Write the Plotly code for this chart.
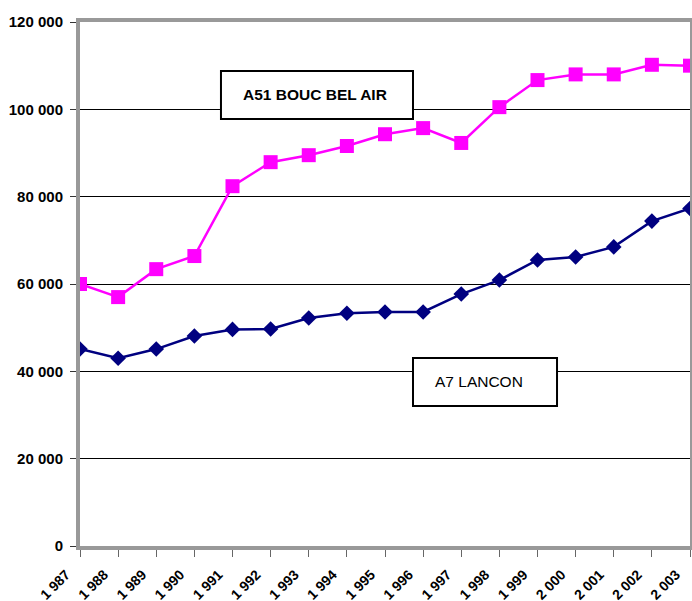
import plotly.graph_objects as go

years = list(range(1987, 2004))
year_labels = ["1 987", "1 988", "1 989", "1 990", "1 991", "1 992", "1 993", "1 994", "1 995",
               "1 996", "1 997", "1 998", "1 999", "2 000", "2 001", "2 002", "2 003"]
a51 = [60000, 57000, 63400, 66400, 82400, 87900, 89500, 91600, 94300, 95700, 92300,
       100500, 106700, 108000, 108000, 110200, 110000]
a7 = [45100, 43000, 45100, 48100, 49600, 49700, 52200, 53300, 53600, 53600, 57700,
      60900, 65500, 66200, 68500, 74400, 77300]
y_ticks = [0, 20000, 40000, 60000, 80000, 100000, 120000]
y_labels = ["0", "20 000", "40 000", "60 000", "80 000", "100 000", "120 000"]

FONT = "Liberation Sans, Arial"

fig = go.Figure()
fig.add_trace(go.Scatter(x=years, y=a51, mode="lines+markers", name="A51 BOUC BEL AIR",
                         line=dict(color="#FF00FF", width=2.5),
                         marker=dict(symbol="square", size=14, color="#FF00FF")))
fig.add_trace(go.Scatter(x=years, y=a7, mode="lines+markers", name="A7 LANCON",
                         line=dict(color="#000080", width=2.5),
                         marker=dict(symbol="diamond", size=12, color="#000080")))

fig.update_layout(
    width=692, height=601,
    margin=dict(l=80, r=2, t=22, b=55),
    paper_bgcolor="white", plot_bgcolor="white",
    showlegend=False,
    font=dict(family=FONT, color="black"),
)
fig.update_xaxes(range=[1987, 2003], tickvals=years, ticktext=year_labels, tickangle=-45,
                 tickfont=dict(size=14, family=FONT, weight="bold"),
                 ticklabeloverflow="allow", ticklabelstandoff=4, ticklabelshift=-14,
                 automargin=False,
                 showgrid=False, zeroline=False,
                 showline=True, linecolor="#999999", linewidth=4, mirror=True,
                 ticks="outside", ticklen=7, tickcolor="#666666", tickwidth=1)
fig.update_yaxes(range=[0, 120000], tickvals=y_ticks, ticktext=y_labels,
                 tickfont=dict(size=15, family=FONT, weight="bold"),
                 ticklabelstandoff=4, automargin=False,
                 showgrid=True, gridcolor="black", gridwidth=1, zeroline=False,
                 showline=True, linecolor="#999999", linewidth=4, mirror=True,
                 ticks="outside", ticklen=6, tickcolor="#333333", tickwidth=1)

# label boxes
fig.add_shape(type="rect", xref="paper", yref="paper", x0=0.2311, x1=0.5459, y0=0.8149, y1=0.9065,
              line=dict(color="black", width=2), fillcolor="white", layer="above")
fig.add_shape(type="rect", xref="paper", yref="paper", x0=0.5459, x1=0.782, y0=0.2672, y1=0.3588,
              line=dict(color="black", width=2), fillcolor="white", layer="above")
fig.add_annotation(x=0.3852, y=0.8607, xref="paper", yref="paper", text="<b>A51 BOUC BEL AIR</b>",
                   showarrow=False, font=dict(size=15.5, color="black", family=FONT),
                   xanchor="center", yanchor="middle")
fig.add_annotation(x=0.5787, y=0.313, xref="paper", yref="paper", text="A7 LANCON",
                   showarrow=False, font=dict(size=15.5, color="black", family=FONT),
                   xanchor="left", yanchor="middle")

fig.write_html("out.html")
